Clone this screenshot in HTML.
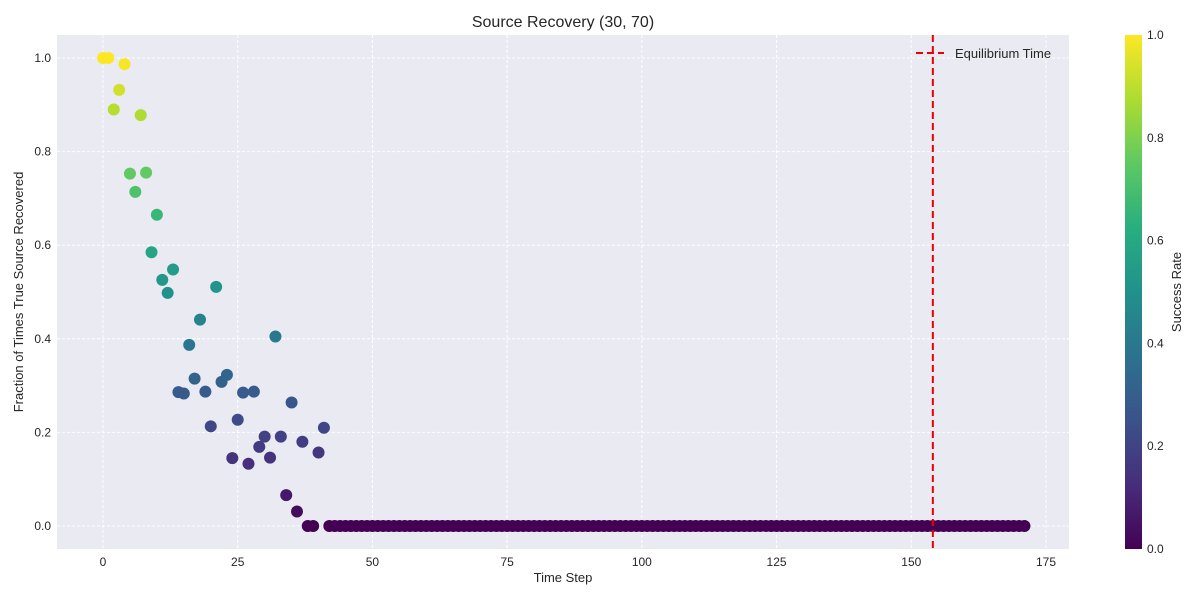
<!DOCTYPE html>
<html><head><meta charset="utf-8"><style>
body{margin:0;background:#fff;font-family:"Liberation Sans","DejaVu Sans",sans-serif}
svg text{font-family:"Liberation Sans","DejaVu Sans",sans-serif}
</style></head><body>
<svg id="c" width="1200" height="600" xmlns="http://www.w3.org/2000/svg">
<defs><linearGradient id="vir" x1="0" y1="1" x2="0" y2="0">
<stop offset="0" stop-color="#440154"/><stop offset="0.125" stop-color="#472d7b"/><stop offset="0.25" stop-color="#3b528b"/><stop offset="0.375" stop-color="#2c728e"/><stop offset="0.5" stop-color="#21918c"/><stop offset="0.625" stop-color="#28ae80"/><stop offset="0.75" stop-color="#5ec962"/><stop offset="0.875" stop-color="#addc30"/><stop offset="1" stop-color="#fde725"/></linearGradient></defs>
<rect x="57" y="35" width="1012" height="514" fill="#eaeaf2"/>
<g id="grid"></g><g id="pts"></g><g id="ticks"></g>
<text x="563" y="27" font-size="16" text-anchor="middle" fill="#262626">Source Recovery (30, 70)</text>
<text x="563" y="582" font-size="13" text-anchor="middle" fill="#262626">Time Step</text>
<text transform="translate(23,292) rotate(-90)" font-size="13" text-anchor="middle" fill="#262626">Fraction of Times True Source Recovered</text>
<g>
<line x1="916" y1="53" x2="944" y2="53" stroke="#e00" stroke-width="2" stroke-dasharray="7,4"/>
<text x="955" y="58" font-size="13" fill="#262626">Equilibrium Time</text></g>
<rect x="1125" y="35" width="17" height="514" fill="url(#vir)"/>
<g id="cb"></g>
<text transform="translate(1181,292) rotate(-90)" font-size="13" text-anchor="middle" fill="#262626">Success Rate</text>
</svg>
<script>
const values=[1.0,1.0,0.89,0.932,0.987,0.753,0.714,0.878,0.755,0.585,0.665,0.526,0.498,0.548,0.286,0.283,0.387,0.315,0.441,0.287,0.213,0.511,0.308,0.323,0.145,0.227,0.285,0.133,0.287,0.169,0.191,0.146,0.405,0.191,0.066,0.264,0.031,0.180,0,0,0.157,0.210];
const totalSteps=172;
const equilibriumTime=154;
const xTicks=[0,25,50,75,100,125,150,175];
const yTicks=[0,0.2,0.4,0.6,0.8,1.0];
const cbTicks=[0,0.2,0.4,0.6,0.8,1.0];
const NS="http://www.w3.org/2000/svg";
const X=v=>103+v*(1046-103)/175, Y=v=>526-v*468, CY=v=>549-v*514;
const vir=["#440154","#472d7b","#3b528b","#2c728e","#21918c","#28ae80","#5ec962","#addc30","#fde725"];
function hx(h){return [1,3,5].map(i=>parseInt(h.substr(i,2),16))}
function col(v){v=Math.max(0,Math.min(1,v));const f=v*8,i=Math.min(7,Math.floor(f)),t=f-i,a=hx(vir[i]),b=hx(vir[i+1]);return "rgb("+a.map((c,k)=>Math.round(c+(b[k]-c)*t)).join(",")+")"}
function mk(p,t,at){const e=document.createElementNS(NS,t);for(const k in at)e.setAttribute(k,at[k]);document.getElementById(p).appendChild(e);return e}
xTicks.forEach(t=>{const g=mk("grid","line",{x1:X(t),x2:X(t),y1:35,y2:549,stroke:"#fff","stroke-dasharray":"3,2"});


const l=mk("ticks","text",{x:X(t),y:566,"font-size":12,"text-anchor":"middle",fill:"#262626"});l.textContent=t;

});
yTicks.forEach(t=>{const g=mk("grid","line",{x1:57,x2:1069,y1:Y(t),y2:Y(t),stroke:"#fff","stroke-dasharray":"3,2"});


const l=mk("ticks","text",{x:51,y:Y(t)+4,"font-size":12,"text-anchor":"end",fill:"#262626"});l.textContent=t.toFixed(1);

});
cbTicks.forEach(t=>{const l=mk("cb","text",{x:1147,y:CY(t)+4,"font-size":12,fill:"#262626"});l.textContent=t.toFixed(1);

});
for(let i=0;i<totalSteps;i++){const v=i<values.length?values[i]:0;
const c=mk("pts","circle",{cx:X(i),cy:Y(v),r:6,fill:col(v)});

}
const eq=mk("pts","line",{x1:X(equilibriumTime),x2:X(equilibriumTime),y1:35,y2:549,stroke:"#e00","stroke-width":2,"stroke-dasharray":"7,4"});


</script>
</body></html>
